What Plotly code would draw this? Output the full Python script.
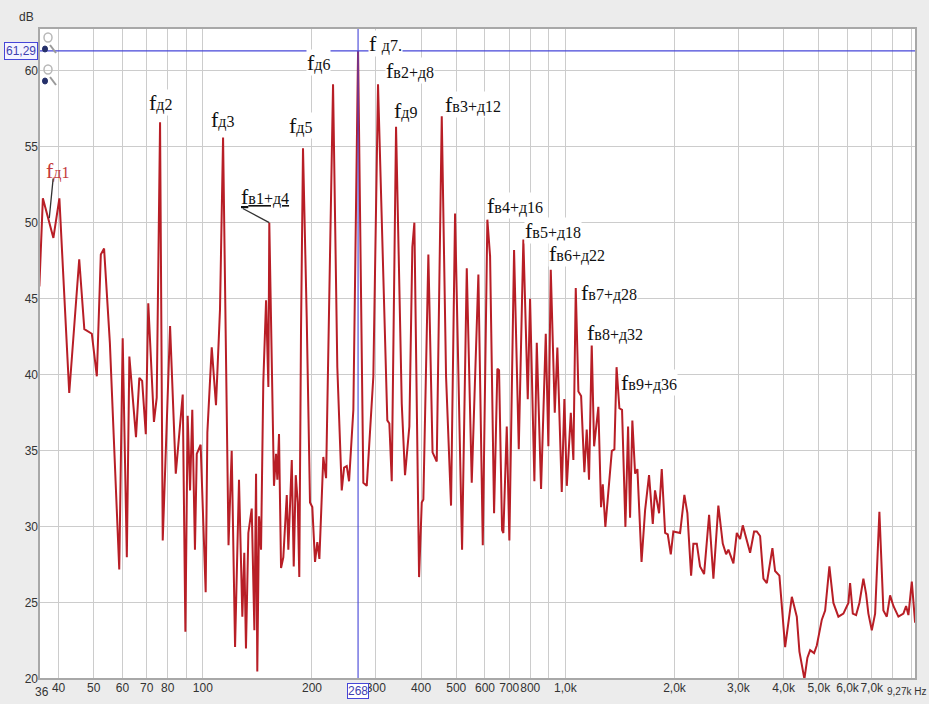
import numpy as np
import plotly.graph_objects as go

# ---------------- data ----------------
freq_hz = [35.4, 36.2, 38.7, 40.2, 42.8, 45.6, 47.1, 49.4, 51.0, 52.3, 53.4, 55.4, 58.8, 60.1, 61.7, 62.7,
           65.4, 66.8, 68.0, 69.6, 70.7, 73.3, 74.6, 76.2, 77.5, 81.2, 84.2, 88.0, 89.5, 90.8, 92.2, 93.5,
           95.1, 96.2, 98.6, 101.8, 102.9, 105.8, 108.7, 111.5, 113.7, 117.7, 120.1, 122.7, 125.8, 128.5,
           130.1, 131.5, 133.5, 136.4, 138.7, 140.2, 141.3, 142.9, 144.7, 146.8, 149.4, 151.6, 152.5, 157.1,
           159.2, 160.5, 162.2, 164.3, 166.7, 170.4, 172.1, 175.9, 178.1, 180.4, 182.7, 184.5, 186.5, 188.9,
           193.4, 197.5, 200.4, 203.9, 206.9, 209.6, 214.9, 218.7, 228.6, 234.9, 241.6, 245.2, 249.4, 253.1,
           260.1, 268.0, 277.1, 283.2, 295.3, 304.2, 322.7, 326.9, 331.9, 341.1, 353.7, 361.1, 371.2, 378.3,
           383.2, 394.8, 401.6, 405.7, 418.8, 430.1, 441.7, 456.0, 468.6, 483.7, 496.2, 518.8, 534.5, 551.7,
           575.4, 591.7, 609.2, 619.8, 635.7, 649.2, 656.2, 668.8, 674.4, 689.1, 700.6, 721.8, 743.7, 765.7,
           787.4, 799.0, 821.2, 833.8, 856.8, 882.8, 897.5, 911.3, 934.7, 950.3, 977.2, 993.5, 1009, 1035,
           1052, 1068, 1086, 1105, 1128, 1145, 1162, 1182, 1200, 1233, 1254, 1268, 1289, 1343, 1365, 1384,
           1409, 1433, 1464, 1489, 1508, 1530, 1557, 1580, 1622, 1659, 1701, 1742, 1767, 1813, 1844, 1884,
           1916, 1953, 1985, 2072, 2129, 2170, 2222, 2254, 2304, 2352, 2413, 2491, 2560, 2642, 2717, 2775,
           2816, 2907, 2970, 3033, 3085, 3145, 3232, 3315, 3372, 3444, 3517, 3594, 3724, 3788, 3893, 4037,
           4123, 4213, 4348, 4421, 4563, 4651, 4732, 4853, 4937, 5097, 5205, 5348, 5486, 5663, 5845, 6034,
           6099, 6205, 6336, 6471, 6637, 6752, 6851, 7001, 7150, 7347, 7536, 7701, 7864, 8030, 8290, 8558,
           8705, 8834, 9026, 9218]

level_db = [45.8, 51.6, 49.0, 51.6, 38.8, 47.6, 43.0, 42.7, 39.9, 47.9, 48.3, 42.1, 27.2, 42.4, 28.0, 41.2,
            35.9, 39.8, 39.6, 36.1, 44.7, 36.9, 38.5, 56.6, 29.1, 43.2, 33.5, 38.7, 23.1, 37.3, 32.4, 37.7,
            28.5, 34.8, 35.4, 25.7, 36.2, 41.8, 38.0, 44.3, 55.6, 28.8, 35.0, 22.1, 33.1, 24.1,
            28.3, 22.0, 29.6, 31.2, 23.2, 33.5, 20.5, 30.7, 28.5, 39.5, 44.9, 39.2, 50.0, 32.7,
            34.8, 33.1, 36.1, 27.3, 28.0, 32.1, 28.5, 34.4, 27.4, 33.4, 31.6, 26.7, 42.7, 54.9,
            43.8, 31.6, 31.3, 27.7, 29.0, 27.9, 34.6, 33.2, 59.1, 40.5, 32.4, 33.9, 34.0, 33.0,
            37.7, 61.29, 32.9, 32.7, 39.9, 59.1, 37.0, 36.8, 33.0, 56.3, 38.1, 33.4, 36.6, 48.4,
            50.0, 26.7, 31.6, 31.8, 47.9, 34.9, 34.3, 57.0, 39.9, 31.4, 50.6, 28.5, 47.0, 32.9,
            46.6, 28.8, 50.2, 47.8, 30.9, 40.4, 40.3, 29.8, 29.6, 36.6, 29.1, 48.2, 35.1, 48.9,
            38.4, 45.0, 33.0, 42.1, 32.5, 42.7, 35.3, 46.9, 37.5, 41.8, 32.3, 38.4, 32.7, 37.5,
            34.4, 45.7, 38.9, 38.6, 33.6, 36.4, 33.1, 42.0, 35.3, 37.9, 31.3, 32.8, 30.0, 35.0, 35.1, 40.5,
            37.8, 37.7, 30.0, 36.6, 30.6, 37.0, 33.5, 33.8, 27.7, 31.1, 33.4, 30.2, 32.4, 30.9, 33.8, 29.6,
            29.5, 28.2, 29.7, 29.6, 32.1, 30.9, 26.8, 28.9, 28.9, 27.4, 26.9, 30.8, 26.6, 31.4, 28.9, 28.2,
            28.5, 27.6, 29.6, 29.2, 30.1, 29.4, 28.3, 29.7, 29.7, 29.4, 26.6, 26.3, 28.6, 27.1, 26.8, 22.1,
            23.7, 25.4, 24.1, 21.8, 20.0, 21.4, 21.9, 21.7, 22.2, 23.9, 24.5, 27.4, 25.0, 24.1, 24.3, 25.0,
            26.3, 24.3, 24.2, 25.0, 26.6, 25.6, 24.3, 23.2, 24.3, 31.0, 24.5, 24.1, 25.5, 24.8, 24.1, 24.3,
            24.8, 24.2, 26.4, 23.7]

# cursor
cursor_hz = 268
cursor_db = 61.29

# axis ticks
x_grid_hz = [40, 50, 60, 70, 80, 90, 100, 200, 300, 400, 500, 600, 700, 800, 900,
             1000, 2000, 3000, 4000, 5000, 6000, 7000, 8000, 9000]
x_grid_text = ["40", "50", "60", "70", "80", "", "100", "200", "300", "400", "500", "600", "700", "800", "",
               "1,0k", "2,0k", "3,0k", "4,0k", "5,0k", "6,0k", "7,0k", "", ""]
x_extra_hz = [36, 9270]
x_extra_text = ["36", "9,27k Hz"]
y_ticks = [20, 25, 30, 35, 40, 45, 50, 55, 60]

x_min_hz, x_max_hz = 35.32, 9270
y_min, y_max = 20, 62.8

# peak labels: main letter + index part, label position (Hz, dB)
label_main = ["f", "f", "f", "f", "f ", "f", "f", "f", "f", "f", "f", "f", "f", "f", "f"]
label_index = ["д2", "д3", "д5", "д6", "д7.", "в2+д8", "д9", "в3+д12", "в1+д4",
               "в4+д16", "в5+д18", "в6+д22", "в7+д28", "в8+д32", "в9+д36"]
label_hz = [76.2, 113.0, 185.4, 207.8, 318.0, 372.7, 361.3, 556.3, 148.4,
            726.2, 924.3, 1077, 1320, 1371, 1702]
label_db = [57.9, 56.8, 56.4, 60.5, 61.8, 60.0, 57.4, 57.8, 51.7,
            51.1, 49.5, 48.0, 45.4, 42.8, 39.5]
underlined = "в1+д4"

red_label_index = "д1"
red_label_hz, red_label_db = 39.6, 53.4

# leader lines: target point (Hz, dB) and tail offset in px
leader_hz = [37.7, 152.5]
leader_db = [50.3, 50.0]
leader_ax = [4, -28]
leader_ay = [-41, -15]

# ---------------- figure ----------------
CURVE = "#b81e26"
BLUE = "#4646d8"
GRID = "#cccccc"
W, H = 929, 704
ML, MR, MT, MB = 39, 13, 28, 25
PW, PH = W - ML - MR, H - MT - MB
MAIN_SIZE, SUB_SIZE = 22, 16


def fmt_label(main, idx):
    return f"{main}<span style='font-size:{SUB_SIZE}px'>{idx}</span>"


fig = go.Figure()
fig.add_trace(go.Scatter(x=freq_hz, y=level_db, mode="lines",
                         line=dict(color=CURVE, width=2), hoverinfo="skip", showlegend=False))
# cursor lines
fig.add_trace(go.Scatter(x=[cursor_hz, cursor_hz], y=[y_min, y_max], mode="lines",
                         line=dict(color=BLUE, width=1.3), opacity=0.85, showlegend=False, hoverinfo="skip"))
fig.add_trace(go.Scatter(x=[x_min_hz, x_max_hz], y=[cursor_db, cursor_db], mode="lines",
                         line=dict(color=BLUE, width=1.3), showlegend=False, hoverinfo="skip"))

label_font = dict(family="Liberation Serif, Times New Roman, serif", size=MAIN_SIZE, color="#111111")
annotations = []
for m, idx, fx, fy in zip(label_main, label_index, label_hz, label_db):
    t = fmt_label(m, idx)
    if idx == underlined:
        t = "<u>" + t + "</u>"
    annotations.append(dict(x=np.log10(fx), y=fy, xref="x", yref="y", text=t, showarrow=False,
                            font=label_font, bgcolor="white", borderpad=0))
annotations.append(dict(x=np.log10(red_label_hz), y=red_label_db, xref="x", yref="y",
                        text=fmt_label("f", red_label_index), showarrow=False,
                        font=dict(family=label_font["family"], size=MAIN_SIZE, color="#c43a3a")))
for fx, fy, ax_, ay_ in zip(leader_hz, leader_db, leader_ax, leader_ay):
    annotations.append(dict(x=np.log10(fx), y=fy, xref="x", yref="y", text="", showarrow=True,
                            arrowhead=0, arrowwidth=1.3, arrowcolor="#333333", ax=ax_, ay=ay_))

tick_font = dict(family="Liberation Sans Narrow, Liberation Sans, Arial", size=12, color="#333333")
annotations.append(dict(x=np.log10(x_extra_hz[0]), y=0, xref="x", yref="paper", yanchor="top", yshift=-4,
                        text=x_extra_text[0], showarrow=False, font=tick_font))
annotations.append(dict(x=np.log10(x_extra_hz[1]), y=0, xref="x", yref="paper", yanchor="top",
                        xanchor="right", xshift=12, yshift=-5,
                        text=x_extra_text[1], showarrow=False, font=dict(tick_font, size=10)))
# cursor value boxes
annotations.append(dict(x=np.log10(cursor_hz), y=0, xref="x", yref="paper", yanchor="top", yshift=-4,
                        text=str(cursor_hz), showarrow=False, font=dict(tick_font, color="#4040b0"),
                        bgcolor="white", bordercolor=BLUE, borderwidth=1, borderpad=0))
annotations.append(dict(x=0, y=cursor_db, xref="paper", yref="y", xanchor="right", xshift=-1,
                        text=f"{cursor_db:.2f}".replace(".", ","), showarrow=False,
                        font=dict(tick_font, color="#4040b0"),
                        bgcolor="#f4f4ff", bordercolor=BLUE, borderwidth=1, borderpad=1))
annotations.append(dict(x=-13 / PW, y=1 + 11 / PH, xref="paper", yref="paper", xanchor="center",
                        yanchor="middle", text="dB", showarrow=False, font=tick_font))


def px(xp):
    return (xp - ML) / PW


def py(yp):
    return (H - MB - yp) / PH


shapes = [dict(type="rect", xref="paper", yref="paper", x0=0, x1=1, y0=0, y1=1,
               line=dict(color="#a8a8a8", width=2), layer="above")]
# small zoom (magnifier) icons near the top-left corner
for dy in (0, 32):
    shapes.append(dict(type="circle", xref="paper", yref="paper", x0=px(44), x1=px(52),
                       y0=py(42 + dy), y1=py(33 + dy), line=dict(color="#b8b8b8", width=1.5)))
    shapes.append(dict(type="line", xref="paper", yref="paper", x0=px(50), x1=px(56),
                       y0=py(45 + dy), y1=py(53 + dy), line=dict(color="#9a9a9a", width=2)))
    shapes.append(dict(type="circle", xref="paper", yref="paper", x0=px(42.5), x1=px(47.5),
                       y0=py(52 + dy), y1=py(46 + dy), fillcolor="#25306a", line=dict(color="#25306a", width=1)))

fig.update_layout(
    width=W, height=H,
    margin=dict(l=ML, r=MR, t=MT, b=MB, autoexpand=False),
    paper_bgcolor="#ececec", plot_bgcolor="white",
    showlegend=False,
    annotations=annotations,
    shapes=shapes,
    xaxis=dict(type="log", range=[np.log10(x_min_hz), np.log10(x_max_hz)],
               tickvals=x_grid_hz, ticktext=x_grid_text, tickfont=tick_font, tickangle=0,
               showgrid=True, gridcolor=GRID, gridwidth=1, zeroline=False, ticks="",
               showline=False, fixedrange=True, automargin=False),
    yaxis=dict(range=[y_min, y_max], tickvals=y_ticks, tickfont=tick_font,
               showgrid=True, gridcolor=GRID, gridwidth=1, zeroline=False, ticks="",
               showline=False, fixedrange=True, automargin=False),
)

fig.write_html("out.html")
